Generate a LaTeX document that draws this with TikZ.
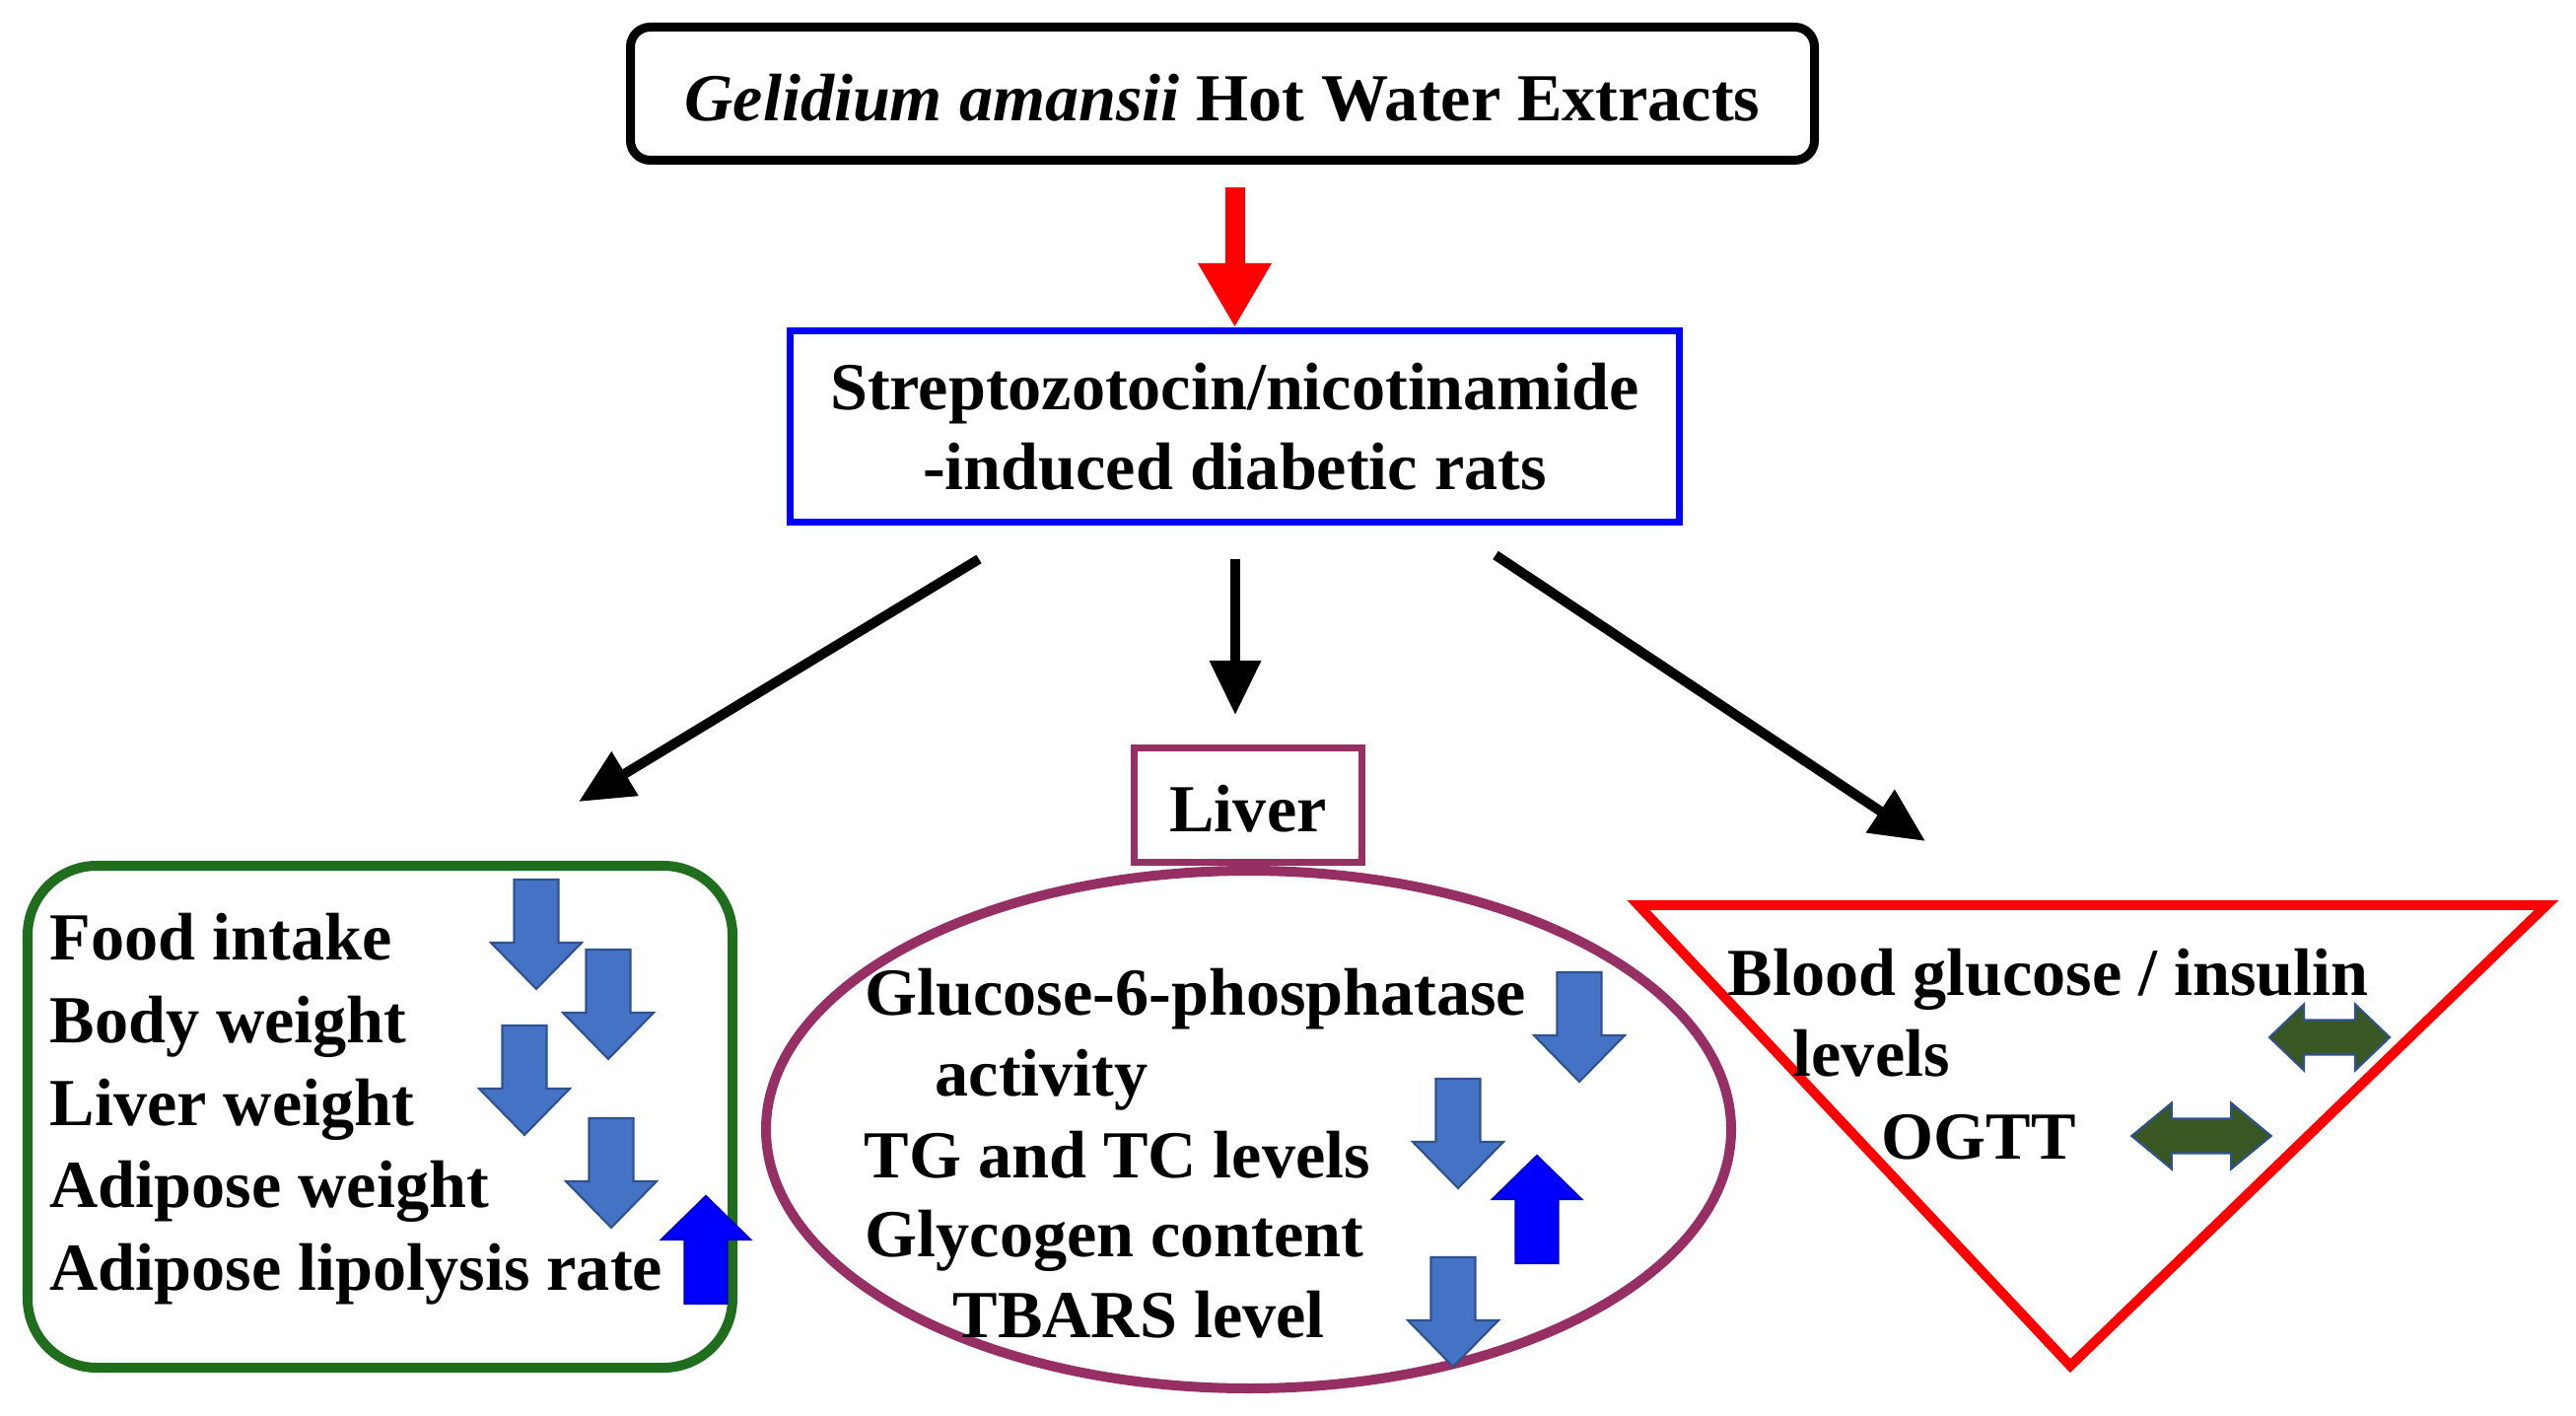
\documentclass[tikz,border=0pt]{standalone}
\usepackage{fontspec}
\setmainfont{Liberation Serif}
\usetikzlibrary{arrows.meta,positioning,shapes.geometric}

\definecolor{boxblue}{RGB}{0,0,255}
\definecolor{plum}{RGB}{150,48,100}
\definecolor{leafgreen}{RGB}{30,110,30}
\definecolor{paleblue}{RGB}{68,114,196}
\definecolor{paleedge}{RGB}{47,82,143}
\definecolor{dblgreen}{RGB}{56,87,35}

\tikzset{
  every node/.style={font=\bfseries\fontsize{19.4}{23}\selectfont},
  topbox/.style={draw, line width=0.09cm, rounded corners=0.2cm, minimum width=12.01cm, minimum height=1.35cm, inner sep=0, text height=0.56cm, text depth=0cm},
  ratbox/.style={draw=boxblue, line width=0.07cm, minimum width=9.02cm, minimum height=1.94cm, inner sep=0, align=center},
  liverbox/.style={draw=plum, line width=0.07cm, minimum width=2.31cm, minimum height=1.16cm, inner sep=0, text height=0.55cm, text depth=0cm},
  liverell/.style={ellipse, draw=plum, line width=0.1cm, minimum width=9.79cm, minimum height=5.25cm, inner sep=0},
  sidebox/.style={draw=leafgreen, line width=0.1cm, rounded corners=0.7cm, minimum width=7.15cm, minimum height=5.09cm, inner sep=0},
  tribox/.style={draw=red, line width=0.1cm, line join=miter},
  textline/.style={anchor=base west, inner sep=0},
  redarr/.style={-{Triangle[length=0.65cm,width=0.7cm]}, red, line width=0.2cm},
  blkarr/.style={-{Triangle[length=0.55cm,width=0.5cm]}, line width=0.1cm},
  dnarr/.pic={\filldraw[fill=paleblue, draw=paleedge, line width=0.6pt]
    (-0.225,0) -- (0.225,0) -- (0.225,-0.64) -- (0.46,-0.64) -- (0,-1.11)
    -- (-0.46,-0.64) -- (-0.225,-0.64) -- cycle;},
  uparr/.pic={\filldraw[fill=blue, draw=blue!80!black, line width=0.6pt]
    (-0.215,0) -- (0.215,0) -- (0.215,0.65) -- (0.45,0.65) -- (0,1.09)
    -- (-0.45,0.65) -- (-0.215,0.65) -- cycle;},
  lrarr/.pic={\filldraw[fill=dblgreen, draw=paleedge, line width=0.6pt]
    (-0.61,0) -- (-0.26,0.335) -- (-0.26,0.175) -- (0.26,0.175) -- (0.26,0.335)
    -- (0.61,0) -- (0.26,-0.335) -- (0.26,-0.175) -- (-0.26,-0.175)
    -- (-0.26,-0.335) -- cycle;}
}

\begin{document}
\begin{tikzpicture}
    \useasboundingbox (0,0) rectangle (26.13,-14.36);

    % Extract and animal model
    \node[topbox] (extract) at (12.40,-0.95) {\textit{Gelidium amansii} Hot Water Extracts};
    \node[ratbox] (rats) at (12.525,-4.325) {Streptozotocin/nicotinamide\\-induced diabetic rats};
    \draw[redarr, shorten <=0.23cm] (extract.south -| rats.north) -- (rats.north);

    % Three branches
    \coordinate (lfrom) at (9.93,-5.67);
    \coordinate (lto) at (5.87,-8.13);
    \coordinate (mfrom) at (12.53,-5.67);
    \coordinate (mto) at (12.53,-7.25);
    \coordinate (rfrom) at (15.17,-5.63);
    \coordinate (rto) at (19.53,-8.53);
    \draw[blkarr] (lfrom) -- (lto);
    \draw[blkarr] (mfrom) -- (mto);
    \draw[blkarr] (rfrom) -- (rto);

    % Left box: body and organ weights
    \node[sidebox] (organs) at (3.855,-11.325) {};
    \node[textline] (food) at (0.5,-9.74) {Food intake};
    \node[textline] (body) at (0.5,-10.57) {Body weight};
    \node[textline] (lw) at (0.5,-11.41) {Liver weight};
    \node[textline] (aw) at (0.5,-12.24) {Adipose weight};
    \node[textline] (lipo) at (0.5,-13.08) {Adipose lipolysis rate};
    \pic at (5.44,-8.92) {dnarr};
    \pic at (6.17,-9.63) {dnarr};
    \pic at (5.32,-10.40) {dnarr};
    \pic at (6.20,-11.34) {dnarr};
    \pic at (7.16,-13.22) {uparr};

    % Middle: liver
    \node[liverell] (lobe) at (12.665,-11.455) {};
    \node[liverbox] (liver) at (12.66,-8.165) {Liver};
    \node[textline] (g6p) at (8.77,-10.30) {Glucose-6-phosphatase};
    \node[textline] (act) at (9.48,-11.11) {activity};
    \node[textline] (tgtc) at (8.76,-11.94) {TG and TC levels};
    \node[textline] (glyc) at (8.77,-12.74) {Glycogen content};
    \node[textline] (tbars) at (9.66,-13.56) {TBARS level};
    \pic at (16.02,-9.86) {dnarr};
    \pic at (14.79,-10.94) {dnarr};
    \pic at (15.59,-12.81) {uparr};
    \pic at (14.74,-12.75) {dnarr};

    % Right: blood tests
    \draw[tribox] (16.62,-9.18) coordinate (tl) -- (25.83,-9.18) coordinate (tr)
        -- (21.0,-13.85) coordinate (tb) -- cycle;
    \node[textline] (blood) at (17.52,-10.10) {Blood glucose / insulin};
    \node[textline] (lev) at (18.18,-10.92) {levels};
    \node[textline] (ogtt) at (19.08,-11.75) {OGTT};
    \pic at (23.63,-10.52) {lrarr};
    \pic[xscale=1.16] at (22.33,-11.52) {lrarr};
\end{tikzpicture}
\end{document}
